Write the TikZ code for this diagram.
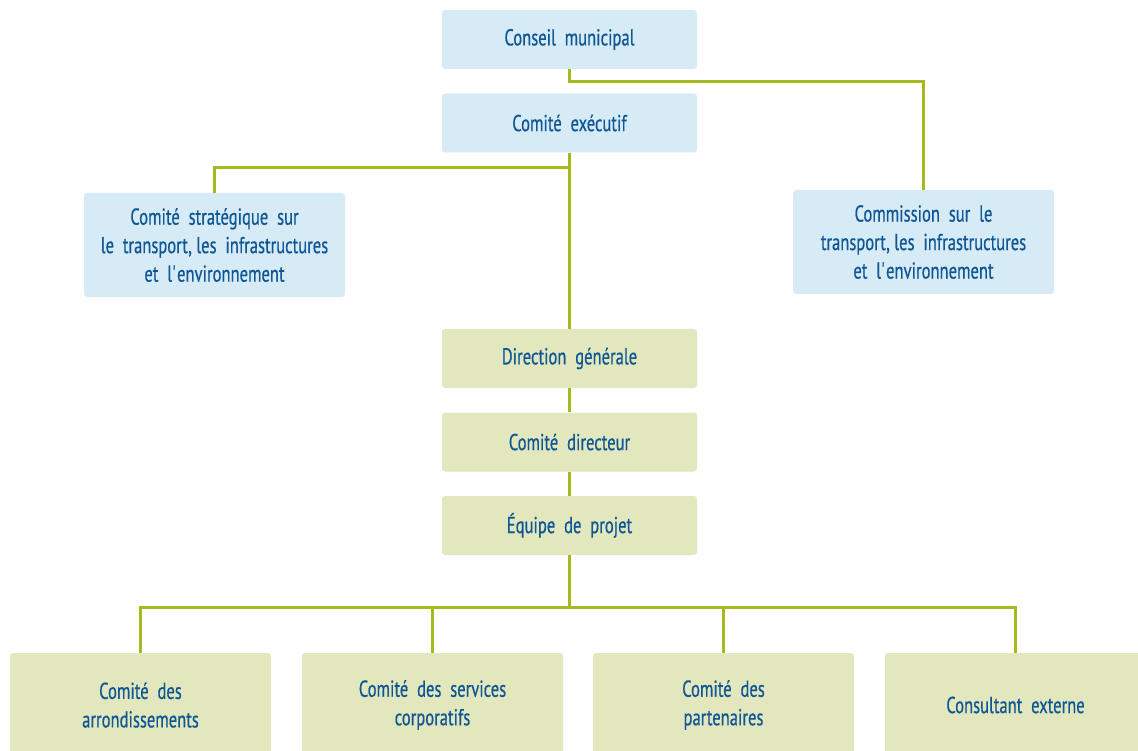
\documentclass[tikz,border=0pt]{standalone}
\usepackage{fontspec}
\setmainfont{PT Sans}[FakeStretch=0.72, FakeBold=0.5]
\usetikzlibrary{positioning}

\definecolor{boxblue}{HTML}{D7EBF7}
\definecolor{boxgreen}{HTML}{E2E7BE}
\definecolor{textblue}{HTML}{0F5794}
\definecolor{linegreen}{HTML}{A6BA1E}

\begin{document}
\begin{tikzpicture}[x=1pt, y=-1pt, node distance=83.5pt]
    \tikzstyle{council} = [rectangle, rounded corners=3pt, fill=boxblue, text=textblue, text centered, minimum width=255pt, minimum height=59pt, font=\fontsize{23}{28.5}\selectfont]
    \tikzstyle{committee} = [council, minimum width=261pt, minimum height=104pt, align=center]
    \tikzstyle{process} = [council, fill=boxgreen]
    \tikzstyle{team} = [committee, fill=boxgreen]
    \tikzstyle{link} = [draw=linegreen, line width=3pt]

    \useasboundingbox (0,0) rectangle (1138,751);

    \node (conseil) [council] at (569.5,39.5) {Conseil\ \ municipal};
    \node (executif) [council, below of=conseil] {Comité\ \ exécutif};
    \node (strategique) [committee] at (214.5,245) {Comité\ \ stratégique\ \ sur\\le\ \ transport, les\ \ infrastructures\\et\ \ l\textquotesingle environnement};
    \node (commission) [committee] at (923.5,242) {Commission\ \ sur\ \ le\\transport, les\ \ infrastructures\\et\ \ l\textquotesingle environnement};
    \node (direction) [process] at (569.5,358.5) {Direction\ \ générale};
    \node (directeur) [process, below of=direction] {Comité\ \ directeur};
    \node (equipe) [process, below of=directeur] {Équipe\ \ de\ \ projet};
    \node (arrond) [team] at (140.5,705) {Comité\ \ des\\arrondissements};
    \node (corpo) [team] at (432.5,705) {Comité\ \ des\ \ services\\corporatifs};
    \node (parten) [team] at (723.5,705) {Comité\ \ des\\partenaires};
    \node (consult) [team] at (1015.5,705) {Consultant\ \ externe};

    % Lines
    \draw [link] (conseil.south) -- ++(0,12) -| (commission.north);
    \draw [link] (executif.south) -- ++(0,15) -| (strategique.north);
    \draw [link] (executif.south) -- (direction.north);
    \draw [link] (direction) -- (directeur);
    \draw [link] (directeur) -- (equipe);
    \draw [link] (equipe.south) -- ++(0,52) coordinate (split);
    \draw [link] (split) -| (arrond.north);
    \draw [link] (split) -| (corpo.north);
    \draw [link] (split) -| (parten.north);
    \draw [link] (split) -| (consult.north);
\end{tikzpicture}
\end{document}
